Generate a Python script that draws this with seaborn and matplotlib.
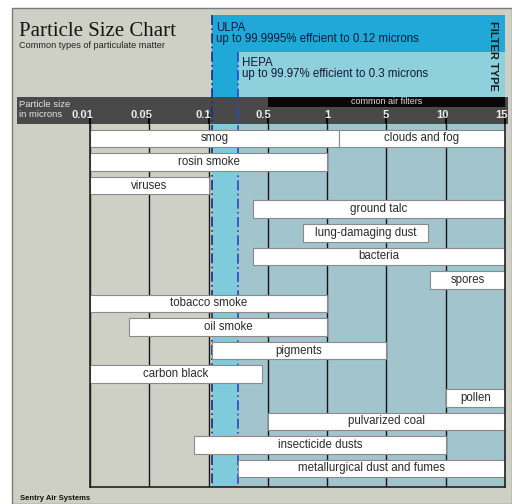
import numpy as np
import matplotlib
matplotlib.use('Agg')
import matplotlib.pyplot as plt
import matplotlib.transforms as mtransforms
from matplotlib.patches import Rectangle
import seaborn as sns

# axis ticks in microns (the chart spaces them evenly)
tick_microns = [0.01, 0.05, 0.1, 0.5, 1, 5, 10, 15]
tick_labels = ['0.01', '0.05', '0.1', '0.5', '1', '5', '10', '15']

# particle size ranges in microns
particles = ['smog', 'clouds and fog', 'rosin smoke', 'viruses', 'ground talc',
             'lung-damaging dust', 'bacteria', 'spores', 'tobacco smoke', 'oil smoke',
             'pigments', 'carbon black', 'pollen', 'pulvarized coal',
             'insecticide dusts', 'metallurgical dust and fumes']
rows = [0, 0, 1, 2, 3, 4, 5, 6, 7, 8, 9, 10, 11, 12, 13, 14]
size_min = [0.01, 1.8, 0.01, 0.01, 0.4, 0.8, 0.4, 8.7, 0.01, 0.036,
            0.12, 0.01, 10, 0.5, 0.088, 0.3]
size_max = [1.8, 15, 1, 0.1, 15, 8.5, 15, 15, 1, 1,
            5, 0.46, 15, 15, 10, 15]

# filter types
ulpa_size = 0.12
hepa_size = 0.3
ulpa_text = 'ULPA\nup to 99.9995% effcient to 0.12 microns'
hepa_text = 'HEPA\nup to 99.97% efficient to 0.3 microns'
common_filters_from = 0.5

bg = '#cfd0c5'
ulpa_top = '#1fa8d8'
hepa_top = '#8fd0dd'
ulpa_low = '#7fcadb'
hepa_low = '#a2c4cd'

sns.set_theme(style='white')
plt.rcParams['font.family'] = ['Liberation Sans', 'DejaVu Sans']

W, H = 512, 504


def fx(px):
    return px / W


def fy(py):
    return 1 - py / H


pos = np.arange(len(tick_microns))


def forward(x):
    return np.interp(x, tick_microns, pos)


def inverse(p):
    return np.interp(p, pos, tick_microns)


fig = plt.figure(figsize=(5.12, 5.04), dpi=100, facecolor='white')
fig.add_artist(Rectangle((fx(12), 0), 1 - fx(12), fy(8), transform=fig.transFigure,
                         facecolor=bg, edgecolor='#7a7a7a', lw=1, zorder=-3))

ax = fig.add_axes([fx(90), fy(487), fx(505) - fx(90), fy(124) - fy(487)])
ax.set_facecolor(bg)
ax.set_axisbelow(False)
ax.set_xscale('function', functions=(forward, inverse))
ax.set_xlim(0.01, 15)
ax.set_ylim(14.785, -0.615)
blend = mtransforms.blended_transform_factory(ax.transData, fig.transFigure)

# header: filter boxes and dark scale band (drawn before the axes)
fig.add_artist(Rectangle((ulpa_size, fy(97)), 15 - ulpa_size, fy(15) - fy(97),
                         transform=blend, color=ulpa_top, lw=0, zorder=-2.5))
fig.add_artist(Rectangle((hepa_size, fy(97)), 15 - hepa_size, fy(52) - fy(97),
                         transform=blend, color=hepa_top, lw=0, zorder=-2.4))
fig.add_artist(Rectangle((fx(17), fy(124)), fx(508) - fx(17), fy(97) - fy(124),
                         transform=fig.transFigure, color='#494949', lw=0, zorder=-2))
fig.add_artist(Rectangle((common_filters_from, fy(107)), 15 - common_filters_from,
                         fy(97) - fy(107), transform=blend, color='#080808', lw=0,
                         zorder=-1.9))

# filter regions in the chart
ax.axvspan(ulpa_size, hepa_size, color=ulpa_low, lw=0, zorder=0.2)
ax.axvspan(hepa_size, 15, color=hepa_low, lw=0, zorder=0.2)

for t in tick_microns:
    ax.axvline(t, color='#151515', lw=1, zorder=0.5)

xc = inverse((forward(common_filters_from) + forward(15)) / 2)
ax.text(xc, fy(102), 'common air filters', transform=blend, ha='center', va='center',
        fontsize=6.5, color='#d8d8d8', zorder=3, clip_on=False)

ax.plot([ulpa_size, ulpa_size], [fy(15), fy(487)], transform=blend, clip_on=False,
        color='#1c2a80', lw=1.2, ls=(0, (6, 2, 1, 2)), zorder=1.7)
ax.plot([hepa_size, hepa_size], [fy(52), fy(487)], transform=blend, clip_on=False,
        color='#2747c8', lw=1.2, ls=(0, (6, 2, 1, 2)), zorder=1.7)

ax.annotate(ulpa_text, xy=(ulpa_size, fy(22)), xycoords=blend, xytext=(3, 0),
            textcoords='offset points', ha='left', va='top', fontsize=8.3,
            color='#111a3a', linespacing=0.9, annotation_clip=False)
ax.annotate(hepa_text, xy=(hepa_size, fy(57)), xycoords=blend, xytext=(3, 0),
            textcoords='offset points', ha='left', va='top', fontsize=8.3,
            color='#111a3a', linespacing=0.9, annotation_clip=False)

# particle bars
widths = np.array(size_max) - np.array(size_min)
ax.barh(rows, widths, left=size_min, height=0.74, color='white',
        edgecolor='#8a8a8a', lw=0.8, zorder=2)
for name, r, a, b in zip(particles, rows, size_min, size_max):
    xm = inverse((forward(a) + forward(b)) / 2)
    ax.text(xm, r, name, ha='center', va='center', fontsize=8.3, color='#2a2a2a', zorder=3)

# axis
ax.set_xticks(tick_microns)
ax.set_xticklabels(tick_labels)
ax.minorticks_off()
ax.set_yticks([])
ax.tick_params(axis='x', which='major', top=True, labeltop=True, bottom=False,
               labelbottom=False, direction='out', length=7, width=1.5,
               color='#050505', pad=-4, labelsize=8, labelcolor='#ececec')
shift = mtransforms.ScaledTranslation(2 / 72, 0, fig.dpi_scale_trans)
for lbl in ax.get_xticklabels():
    lbl.set_ha('right')
    lbl.set_fontweight('bold')
    lbl.set_transform(lbl.get_transform() + shift)
for s in ['left', 'bottom', 'right']:
    ax.spines[s].set_color('#222222')
    ax.spines[s].set_linewidth(1.2)
ax.spines['top'].set_visible(False)

# titles
fig.text(fx(19), fy(36), 'Particle Size Chart', family='Liberation Serif',
         fontsize=15, color='#151515', va='baseline')
fig.text(fx(19), fy(46), 'Common types of particulate matter', fontsize=6.6,
         color='#222222', va='center')
fig.text(fx(19), fy(100), 'Particle size\nin microns', fontsize=6.8, color='#e4e4e4',
         va='top', linespacing=1.2)
fig.text(fx(493), fy(56), 'FILTER TYPE', rotation=-90, ha='center', va='center',
         fontsize=8, weight='bold', color='#1a1a1a')
fig.text(fx(20), fy(498), 'Sentry Air Systems', fontsize=5.5, weight='bold',
         color='#111111', va='center')

fig.savefig('out.png', dpi=100)
